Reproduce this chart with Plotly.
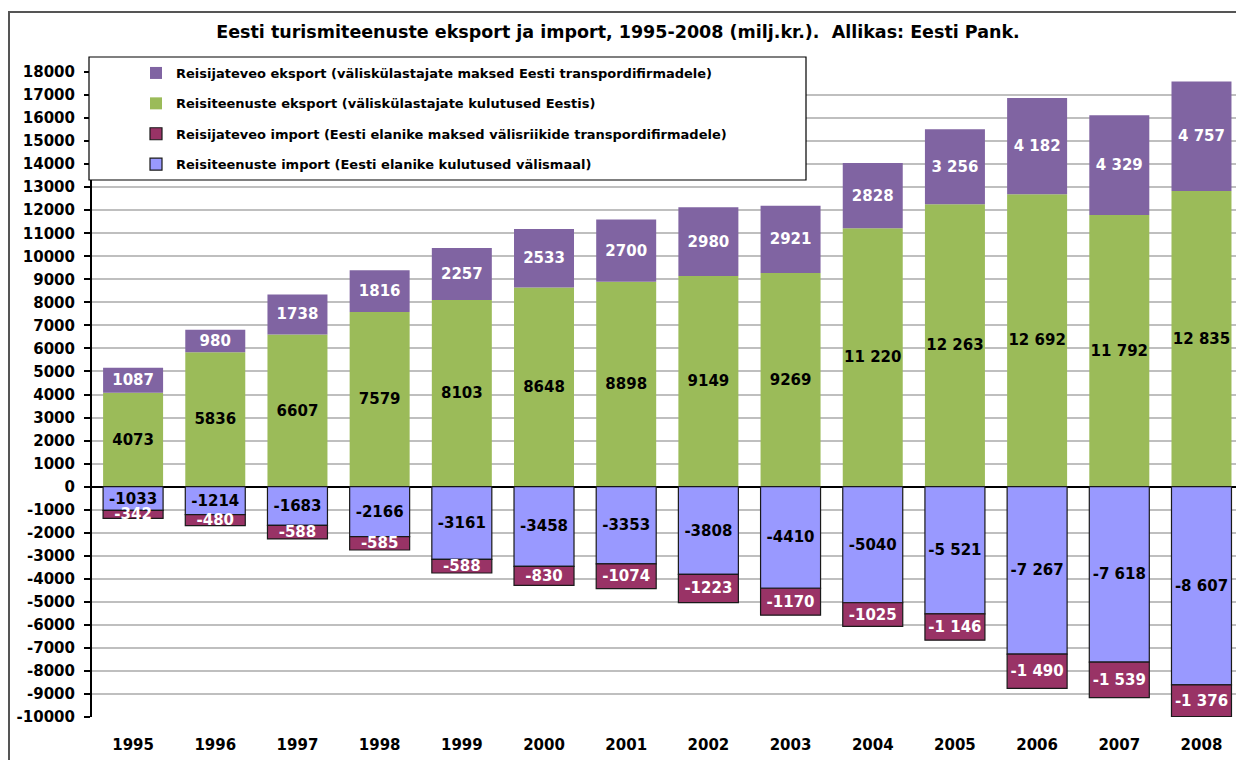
import plotly.graph_objects as go

years = ["1995", "1996", "1997", "1998", "1999", "2000", "2001", "2002", "2003",
         "2004", "2005", "2006", "2007", "2008"]

# Reisiteenuste eksport (green)
travel_export = [4073, 5836, 6607, 7579, 8103, 8648, 8898, 9149, 9269,
                 11220, 12263, 12692, 11792, 12835]
# Reisijateveo eksport (purple)
transport_export = [1087, 980, 1738, 1816, 2257, 2533, 2700, 2980, 2921,
                    2828, 3256, 4182, 4329, 4757]
# Reisiteenuste import (lavender)
travel_import = [-1033, -1214, -1683, -2166, -3161, -3458, -3353, -3808, -4410,
                 -5040, -5521, -7267, -7618, -8607]
# Reisijateveo import (maroon)
transport_import = [-342, -480, -588, -585, -588, -830, -1074, -1223, -1170,
                    -1025, -1146, -1490, -1539, -1376]

# first year whose label is written with a space as thousands separator
spaced_from = {"travel_export": 2004, "transport_export": 2005,
               "travel_import": 2005, "transport_import": 2005}

y_ticks = list(range(-10000, 18001, 1000))


def labels(values, key):
    out = []
    for yr, v in zip(years, values):
        s = f"{v:,}" if int(yr) >= spaced_from[key] else f"{v}"
        out.append(s.replace(",", " "))
    return out


FONT = "DejaVu Sans, Verdana, sans-serif"
lbl_size = 15

fig = go.Figure()

series = [
    ("Reisiteenuste eksport (väliskülastajate kulutused Eestis)", travel_export,
     "travel_export", "#9BBB59", "black", 0, 2),
    ("Reisijateveo eksport (väliskülastajate maksed Eesti transpordifirmadele)", transport_export,
     "transport_export", "#8064A2", "white", 0, 1),
    ("Reisiteenuste import (Eesti elanike kulutused välismaal)", travel_import,
     "travel_import", "#9999FF", "black", 1.2, 4),
    ("Reisijateveo import (Eesti elanike maksed välisriikide transpordifirmadele)", transport_import,
     "transport_import", "#993366", "white", 1.2, 3),
]

for name, vals, key, color, tcolor, lw, rank in series:
    fig.add_trace(go.Bar(
        x=years, y=vals, name=name,
        marker=dict(color=color, line=dict(color="#1a1a1a", width=lw)),
        text=labels(vals, key), textposition="inside", insidetextanchor="middle",
        constraintext="none", textangle=0,
        textfont=dict(family=FONT, size=lbl_size, color=tcolor, weight="bold"),
        legendrank=rank, legendgroup=key,
    ))

W, H = 1236, 760
L, R, T = 92, 0, 72
B = H - 717
pw = W - L - R
ph = H - T - B


def px_x(x):
    return (x - L) / pw


def px_y(y):
    return (H - B - y) / ph


fig.update_layout(
    width=W, height=H,
    margin=dict(l=L, r=R, t=T, b=B),
    barmode="relative", bargap=0.27,
    plot_bgcolor="white", paper_bgcolor="white",
    font=dict(family=FONT, color="black"),
    title=dict(text="<b>Eesti turismiteenuste eksport ja import, 1995-2008 (milj.kr.).  Allikas: Eesti Pank.</b>",
               x=0.5, xanchor="center", y=1 - 32 / H, yanchor="middle",
               font=dict(family=FONT, size=17.5, color="black")),
    xaxis=dict(type="category", range=[-0.5, 13.42], showgrid=False,
               tickfont=dict(family=FONT, size=15, color="black", weight="bold"),
               ticks="", ticklabelstandoff=17, showline=False),
    yaxis=dict(range=[-10000, 18000], tickvals=y_ticks,
               ticktext=[str(v) for v in y_ticks],
               showgrid=True, gridcolor="#BFBFBF", gridwidth=1.5,
               zeroline=True, zerolinecolor="black", zerolinewidth=2,
               showline=True, linecolor="black", linewidth=2,
               ticks="outside", ticklen=6, tickcolor="black", tickwidth=1.5,
               ticklabelstandoff=6,
               tickfont=dict(family=FONT, size=15, color="black", weight="bold")),
    legend=dict(x=px_x(136), y=px_y(58), xanchor="left", yanchor="top",
                bgcolor="rgba(0,0,0,0)", borderwidth=0,
                font=dict(family=FONT, size=13, color="black", weight="bold"),
                tracegroupgap=10.5, itemwidth=30),
    showlegend=True,
)

# legend box
fig.add_shape(type="rect", xref="paper", yref="paper",
              x0=px_x(89), x1=px_x(806), y0=px_y(180), y1=px_y(57),
              fillcolor="white", line=dict(color="black", width=1.2), layer="above")
# outer chart border
fig.add_shape(type="rect", xref="paper", yref="paper",
              x0=px_x(9), x1=px_x(1250), y0=px_y(775), y1=px_y(12),
              fillcolor="rgba(0,0,0,0)", line=dict(color="#555555", width=2), layer="above")

fig.write_html(
    "out.html",
    config={"displayModeBar": False},
    post_script="document.body.style.margin='0';document.body.style.overflow='hidden';",
)
